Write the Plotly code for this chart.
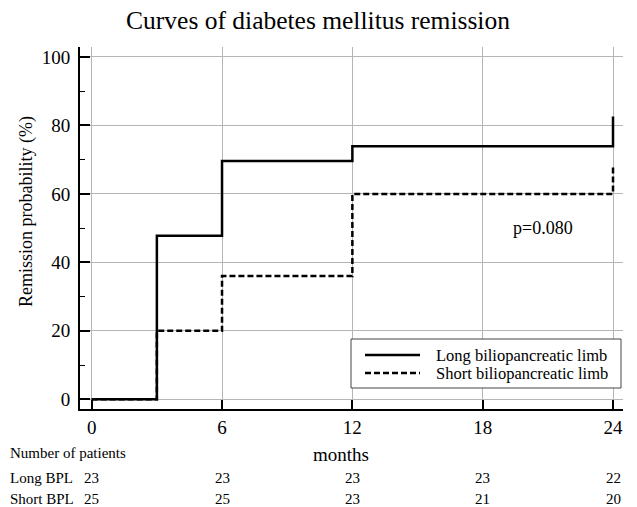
import plotly.graph_objects as go

# Data
months_long = [0, 3, 6, 12, 24, 24]
remission_long = [0, 47.8, 69.6, 73.9, 73.9, 82.6]
months_short = [0, 3, 6, 12, 24, 24]
remission_short = [0, 20.0, 36.0, 60.0, 60.0, 68.0]
series_names = ["Long biliopancreatic limb", "Short biliopancreatic limb"]
table_months = [0, 6, 12, 18, 24]
n_long = [23, 23, 23, 23, 22]
n_short = [25, 25, 23, 21, 20]
x_ticks = [0, 6, 12, 18, 24]
y_ticks = [0, 20, 40, 60, 80, 100]

FONT = "Liberation Serif"
W, H = 637, 507
L, R, T, B = 80, 14, 47, 98
PW, PH = W - L - R, H - T - B

def px2paper_x(px):
    return (px - L) / PW

def px2paper_y(py):
    return (H - B - py) / PH

DASH = "6px,3px"

fig = go.Figure()
fig.add_trace(go.Scatter(x=months_long, y=remission_long, mode="lines", line_shape="hv",
                         line=dict(color="black", width=2.5), name=series_names[0], showlegend=False))
fig.add_trace(go.Scatter(x=months_short, y=remission_short, mode="lines", line_shape="hv",
                         line=dict(color="black", width=2.5, dash=DASH), name=series_names[1], showlegend=False))

fig.update_layout(
    width=W, height=H,
    margin=dict(l=L, r=R, t=T, b=B),
    paper_bgcolor="white", plot_bgcolor="white",
    font=dict(family=FONT, color="black", size=19),
    title=dict(text="Curves of diabetes mellitus remission", x=318 / W, xref="container", y=1 - 20 / H,
               yanchor="middle", xanchor="center", font=dict(size=25.5, family=FONT, color="black")),
    showlegend=False,
)

fig.update_xaxes(range=[-0.539, 24.46], tickvals=x_ticks, ticktext=[str(v) for v in x_ticks],
                 showline=True, linecolor="black", linewidth=2,
                 ticks="inside", ticklen=9, tickwidth=2, tickcolor="black",
                 showgrid=True, gridcolor="#b5b5b5", gridwidth=1, zeroline=False,
                 tickfont=dict(size=19, family=FONT, color="black"))
fig.update_yaxes(range=[-2.83, 102.9], tickvals=y_ticks,
                 showline=True, linecolor="black", linewidth=2,
                 ticks="inside", ticklen=10, tickwidth=2, tickcolor="black",
                 ticklabelstandoff=4,
                 minor=dict(dtick=10, ticks="inside", ticklen=5, tickwidth=1, tickcolor="black", showgrid=False),
                 showgrid=True, gridcolor="#b5b5b5", gridwidth=1, zeroline=False,
                 tickfont=dict(size=19, family=FONT, color="black"))

# Legend box (drawn manually to match the original proportions)
shapes = [
    dict(type="rect", xref="paper", yref="paper",
         x0=px2paper_x(351), x1=px2paper_x(621), y0=px2paper_y(388), y1=px2paper_y(339),
         line=dict(color="#444", width=1), fillcolor="white", layer="above"),
    dict(type="line", xref="paper", yref="paper",
         x0=px2paper_x(365), x1=px2paper_x(420), y0=px2paper_y(355), y1=px2paper_y(355),
         line=dict(color="black", width=2.5), layer="above"),
    dict(type="line", xref="paper", yref="paper",
         x0=px2paper_x(365), x1=px2paper_x(420), y0=px2paper_y(373), y1=px2paper_y(373),
         line=dict(color="black", width=2.5, dash=DASH), layer="above"),
]
fig.update_layout(shapes=shapes)

ann = []
for name, py in zip(series_names, [355, 373]):
    ann.append(dict(text=name, xref="paper", yref="paper", x=px2paper_x(434), y=px2paper_y(py),
                    xanchor="left", yanchor="middle", showarrow=False,
                    font=dict(size=16.5, family=FONT, color="black")))
ann.append(dict(text="Remission probability (%)", textangle=-90, xref="paper", yref="paper",
                x=px2paper_x(26), y=px2paper_y(212), xanchor="center", yanchor="middle",
                showarrow=False, font=dict(size=18, family=FONT, color="black")))
ann.append(dict(text="months", xref="paper", yref="paper", x=px2paper_x(341), y=px2paper_y(454),
                xanchor="center", yanchor="middle", showarrow=False,
                font=dict(size=19, family=FONT, color="black")))
ann.append(dict(text="p=0.080", xref="paper", yref="paper", x=px2paper_x(543), y=px2paper_y(228),
                xanchor="center", yanchor="middle", showarrow=False,
                font=dict(size=18, family=FONT, color="black")))
ann.append(dict(text="Number of patients", xref="paper", yref="paper", x=px2paper_x(8), y=px2paper_y(453),
                xanchor="left", yanchor="middle", showarrow=False,
                font=dict(size=15, family=FONT, color="black")))
ann.append(dict(text="Long BPL", xref="paper", yref="paper", x=px2paper_x(8), y=px2paper_y(478),
                xanchor="left", yanchor="middle", showarrow=False,
                font=dict(size=15, family=FONT, color="black")))
ann.append(dict(text="Short BPL", xref="paper", yref="paper", x=px2paper_x(8), y=px2paper_y(499),
                xanchor="left", yanchor="middle", showarrow=False,
                font=dict(size=15, family=FONT, color="black")))
for m, a, b in zip(table_months, n_long, n_short):
    ann.append(dict(text=str(a), xref="x", yref="paper", x=m, y=px2paper_y(478),
                    xanchor="center", yanchor="middle", showarrow=False,
                    font=dict(size=15, family=FONT, color="black")))
    ann.append(dict(text=str(b), xref="x", yref="paper", x=m, y=px2paper_y(499),
                    xanchor="center", yanchor="middle", showarrow=False,
                    font=dict(size=15, family=FONT, color="black")))
fig.update_layout(annotations=ann)

fig.write_html("out.html", config={"displayModeBar": False},
               post_script="document.body.style.margin='0';document.body.style.overflow='hidden';")
